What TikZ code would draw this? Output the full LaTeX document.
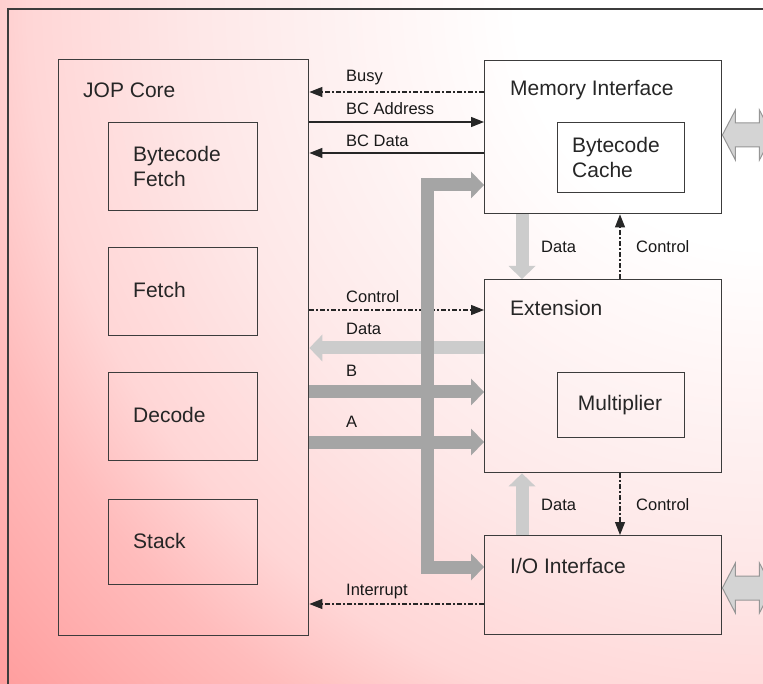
\documentclass[tikz,border=0pt]{standalone}
\usepackage{fontspec}
\setmainfont{Liberation Sans}
\usetikzlibrary{arrows.meta,calc}
\definecolor{edge}{RGB}{60,60,60}
\definecolor{bgA}{RGB}{255,255,255}
\definecolor{bgB}{RGB}{254,231,231}
\definecolor{bgC}{RGB}{255,214,214}
\definecolor{bgD}{RGB}{255,188,188}
\definecolor{bgE}{RGB}{255,158,158}
\definecolor{busgray}{RGB}{165,165,165}
\definecolor{datagray}{RGB}{204,204,204}
\definecolor{extgray}{RGB}{212,212,212}
\definecolor{extedge}{RGB}{150,150,150}
\pgfdeclareradialshading{bgshade}{\pgfpoint{0bp}{0bp}}{color(0bp)=(bgA); color(6bp)=(bgA); color(14bp)=(bgB); color(18bp)=(bgC); color(20.5bp)=(bgD); color(25bp)=(bgE); color(50bp)=(bgE)}
\begin{document}
\begin{tikzpicture}[x=1pt,y=-1pt,
  box/.style={draw=edge, line width=1.4pt, anchor=north west, inner sep=0pt},
  big/.style={font=\fontsize{21}{25}\selectfont, inner sep=0pt, anchor=west, text=black!85},
  bigl/.style={font=\fontsize{21}{25}\selectfont, inner sep=0pt, anchor=north west, align=left, text=black!85},
  small/.style={font=\fontsize{16.5}{19}\selectfont, inner sep=0pt, anchor=west, text=black!90},
  sig/.style={draw=black!85, line width=1.2pt, -{Triangle[length=13pt,width=10pt]}},
  ctl/.style={draw=black!85, line width=1.1pt, dash pattern=on 5pt off 2pt on 2pt off 2pt, -{Triangle[length=13pt,width=10pt]}},
  fat/.style={line width=13pt, -{Triangle[length=13pt,width=27pt,line width=0pt]}},
  extarrow/.style={fill=extgray, draw=extedge, line width=1pt, line join=miter}
]
\useasboundingbox (0,0) rectangle (763,684);
\clip (0,0) rectangle (763,684);
% background
\shade[shading=bgshade] (-259,-1022) rectangle (1785,1022);
% outer border
\draw[edge, line width=1.4pt] (8,9) rectangle (820,740);

% boxes
\node[box, minimum width=250pt, minimum height=576pt] (jop) at (58,59) {};
\node[box, minimum width=149pt, minimum height=88pt] (bf) at (108,122) {};
\node[box, minimum width=149pt, minimum height=88pt] (fe) at (108,247) {};
\node[box, minimum width=149pt, minimum height=88pt] (de) at (108,372) {};
\node[box, minimum width=149pt, minimum height=85pt] (st) at (108,499) {};
\node[box, minimum width=237pt, minimum height=153pt] (mem) at (484,60) {};
\node[box, minimum width=127pt, minimum height=70pt] (bc) at (557,122) {};
\node[box, minimum width=237pt, minimum height=193pt] (ext) at (484,279) {};
\node[box, minimum width=127pt, minimum height=65pt] (mul) at (557,372) {};
\node[box, minimum width=237pt, minimum height=99pt] (io) at (484,535) {};

% titles
\node[big] (tjop) at (83,90) {JOP Core};
\node[bigl] (tbf) at (133,146) {Bytecode\\Fetch};
\node[big] (tfe) at (133,290) {Fetch};
\node[big] (tde) at (133,415) {Decode};
\node[big] (tst) at (133,541) {Stack};
\node[big] (tmem) at (510,90) {Memory Interface};
\node[bigl] (tbc) at (572,137) {Bytecode\\Cache};
\node[big] (text) at (510,308) {Extension};
\node[big, anchor=center] (tmul) at (620,405) {Multiplier};
\node[big] (tio) at (510,566) {I/O Interface};

% coordinates for connector levels
\coordinate (yBusy) at (0,92);
\coordinate (yBCA) at (0,122);
\coordinate (yBCD) at (0,153);
\coordinate (yCtl) at (0,310);
\coordinate (yData) at (0,348);
\coordinate (yB) at (0,392);
\coordinate (yA) at (0,442);
\coordinate (yInt) at (0,604);
\coordinate (xData) at (522,0);
\coordinate (xCtl) at (620,0);
\coordinate (busT) at (427,185);
\coordinate (busB) at (427,567);
\coordinate (yExtM) at (0,135);
\coordinate (yExtI) at (0,588);

% thin connectors
\draw[ctl] (mem.west |- yBusy) -- (jop.east |- yBusy);
\draw[sig] (jop.east |- yBCA) -- (mem.west |- yBCA);
\draw[sig] (mem.west |- yBCD) -- (jop.east |- yBCD);
\draw[ctl] (jop.east |- yCtl) -- (ext.west |- yCtl);
\draw[ctl] (io.west |- yInt) -- (jop.east |- yInt);
\draw[ctl] (ext.north -| xCtl) -- (mem.south -| xCtl);
\draw[ctl] (ext.south -| xCtl) -- (io.north -| xCtl);

% fat connectors
\draw[fat, draw=datagray, fill=datagray] (ext.west |- yData) -- (jop.east |- yData);
\draw[fat, draw=datagray, fill=datagray] (mem.south -| xData) -- (ext.north -| xData);
\draw[fat, draw=datagray, fill=datagray] (io.north -| xData) -- (ext.south -| xData);
\draw[fat, draw=busgray, fill=busgray] (jop.east |- yB) -- (ext.west |- yB);
\draw[fat, draw=busgray, fill=busgray] (jop.east |- yA) -- (ext.west |- yA);
\draw[line width=13pt, draw=busgray, line join=miter,
  {Triangle[length=13pt,width=27pt,line width=0pt]}-{Triangle[length=13pt,width=27pt,line width=0pt]}]
  (busT -| mem.west) -- (busT) -- (busB) -- (busB -| io.west);

% external double arrows
\draw[extarrow] (mem.east |- yExtM) -- ++(13,-25) -- ++(0,13) -- ++(24,0) -- ++(0,-13) -- ++(13,25) -- ++(-13,25) -- ++(0,-13) -- ++(-24,0) -- ++(0,13) -- cycle;
\draw[extarrow] (io.east |- yExtI) -- ++(13,-25) -- ++(0,13) -- ++(24,0) -- ++(0,-13) -- ++(13,25) -- ++(-13,25) -- ++(0,-13) -- ++(-24,0) -- ++(0,13) -- cycle;

% labels
\node[small] (lBusy) at (346,78) {Busy};
\node[small] (lBCA) at (346,109) {BC Address};
\node[small] (lBCD) at (346,141) {BC Data};
\node[small] (lCtl) at (346,297) {Control};
\node[small] (lData) at (346,329) {Data};
\node[small] (lB) at (346,371) {B};
\node[small] (lA) at (346,422) {A};
\node[small] (lInt) at (346,592) {Interrupt};
\node[small] (lD1) at (541,247) {Data};
\node[small] (lC1) at (636,247) {Control};
\node[small] (lD2) at (541,505) {Data};
\node[small] (lC2) at (636,505) {Control};
\end{tikzpicture}
\end{document}
